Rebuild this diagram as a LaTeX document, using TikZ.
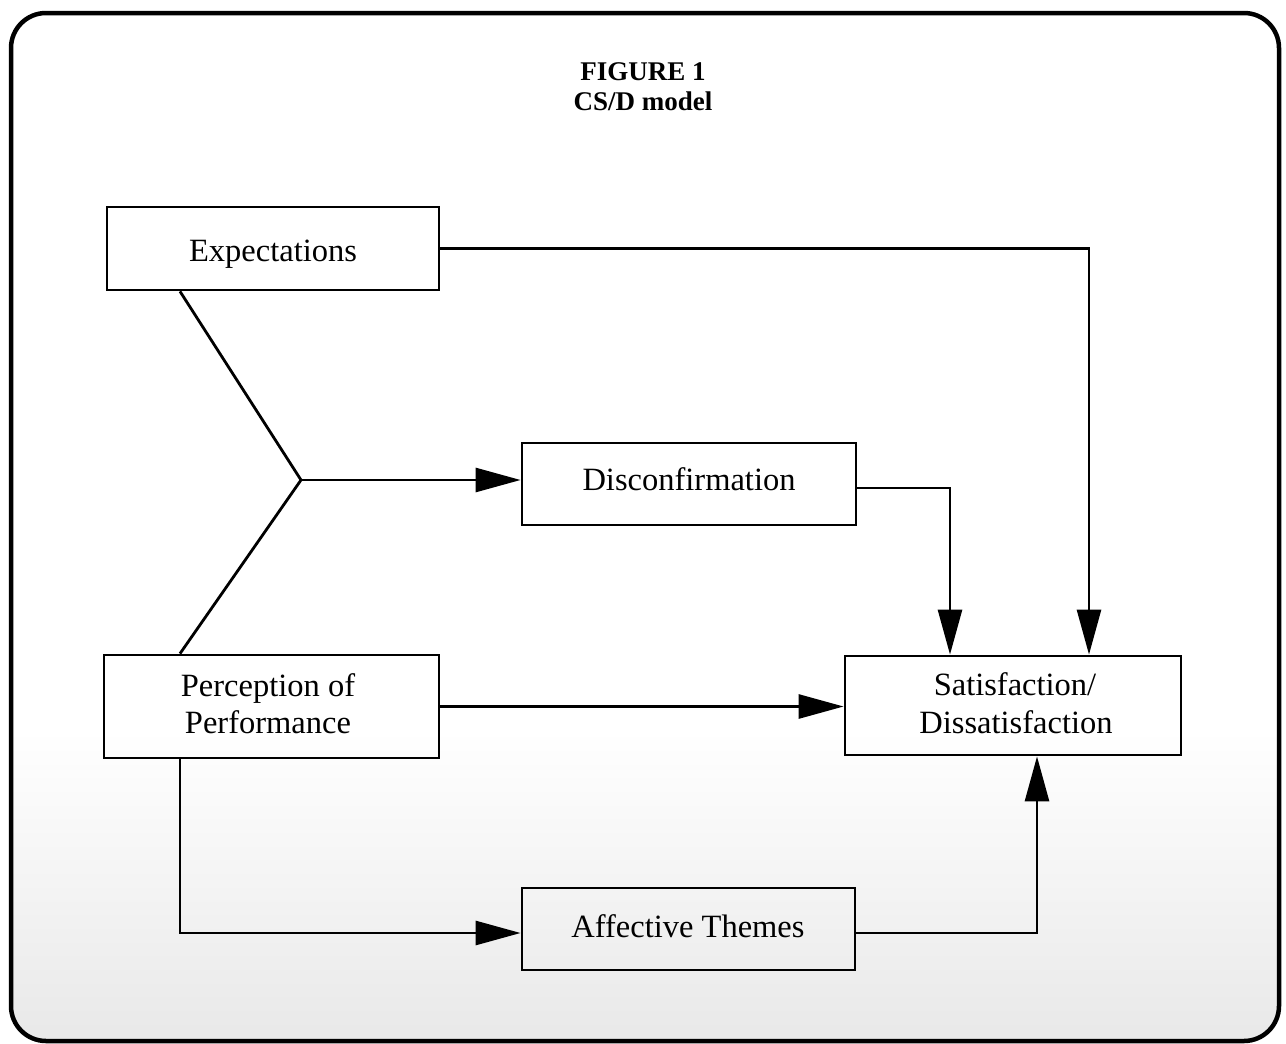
\documentclass[tikz,border=0pt]{standalone}
\usepackage{fontspec}
\setmainfont{Liberation Serif}
\usetikzlibrary{arrows.meta}
\tikzset{
  box/.style={draw, line width=2.8pt, inner sep=0pt},
  lbl/.style={anchor=base, inner sep=0pt, font=\fontsize{32.5}{37}\selectfont},
  conn/.style={line width=2.8pt},
  arr/.style={conn, -{Triangle[length=45pt,width=24pt]}},
  ttl/.style={anchor=base, inner sep=0pt, font=\bfseries\fontsize{27}{30}\selectfont}
}
\begin{document}
\begin{tikzpicture}[x=1pt,y=-1pt]
\useasboundingbox (0,0) rectangle (1286,1044);
\begin{scope}
  \clip[rounded corners=35pt] (11,13) rectangle (1279,1041);
  \shade[top color=white, bottom color=black!9] (0,730) rectangle (1286,1044);
\end{scope}
\draw[line width=4.5pt, rounded corners=35pt] (11,13) rectangle (1279,1041);

\node[ttl] (title1) at (643,80) {FIGURE 1};
\node[ttl] (title2) at (643,110) {CS/D model};

\node[box, minimum width=332pt, minimum height=83pt] (exp) at (273,248.5) {};
\node[box, minimum width=334pt, minimum height=82pt] (disc) at (689,484) {};
\node[box, minimum width=335pt, minimum height=103pt] (perc) at (271.5,706.5) {};
\node[box, minimum width=336pt, minimum height=99pt] (sat) at (1013,705.5) {};
\node[box, minimum width=333pt, minimum height=82pt] (aff) at (688.5,929) {};

\node[lbl] (expt) at (273,261) {Expectations};
\node[lbl] (disct) at (689,490) {Disconfirmation};
\node[lbl] (perct1) at (268,696) {Perception of};
\node[lbl] (perct2) at (268,733) {Performance};
\node[lbl] (satt1) at (1015,695) {Satisfaction/};
\node[lbl] (satt2) at (1016,733) {Dissatisfaction};
\node[lbl] (afft) at (688,937) {Affective Themes};

\coordinate (j) at (301,480);
\coordinate (xl) at (180,0);
\coordinate (xe) at (1089,0);
\coordinate (xd) at (950,0);
\coordinate (yd) at (0,488);
\coordinate (ya) at (0,933);
\coordinate (xa) at (1037,0);

\draw[conn] (xl |- exp.south) -- (j) -- (xl |- perc.north);
\draw[arr] (j) -- (j -| disc.west);
\draw[arr] (exp.east) -| (xe |- sat.north);
\draw[arr] (yd -| disc.east) -| (xd |- sat.north);
\draw[arr] (perc.east) -- (perc.east -| sat.west);
\draw[arr] (xl |- perc.south) |- (ya -| aff.west);
\draw[arr] (ya -| aff.east) -| (xa |- sat.south);
\end{tikzpicture}
\end{document}
